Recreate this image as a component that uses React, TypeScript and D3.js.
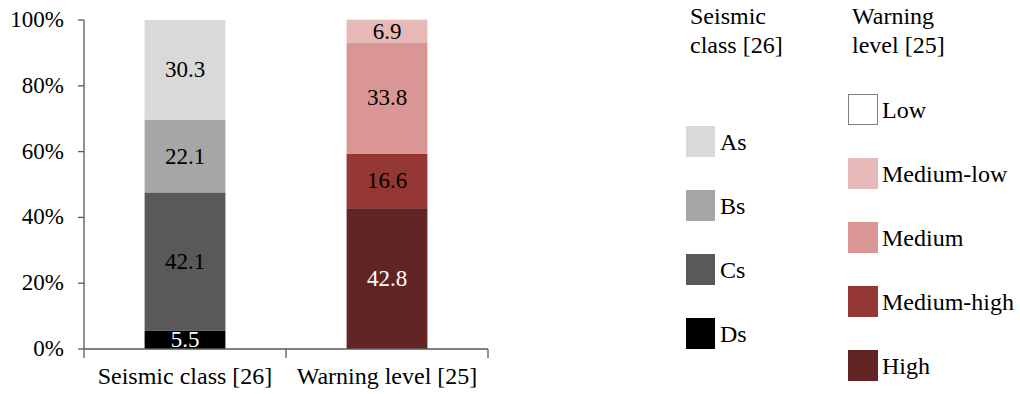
import React from "react";
import * as d3 from "d3";

const categories = ["Seismic class [26]", "Warning level [25]"];

const seismicKeys = ["Ds", "Cs", "Bs", "As"];
const seismicValues = [5.5, 42.1, 22.1, 30.3];
const seismicColors = ["#000000", "#595959", "#a6a6a6", "#d9d9d9"];
const seismicLabelColors = ["#ffffff", "#000000", "#000000", "#000000"];

const warningKeys = ["High", "Medium-high", "Medium", "Medium-low", "Low"];
const warningValues = [42.8, 16.6, 33.8, 6.9, 0];
const warningColors = ["#632523", "#953735", "#da9694", "#e6b9b8", "#ffffff"];
const warningLabelColors = ["#ffffff", "#000000", "#000000", "#000000", "#000000"];

const yTicks = [0, 20, 40, 60, 80, 100];

const legendSeismicTitle = ["Seismic", "class [26]"];
const legendWarningTitle = ["Warning", "level [25]"];
const legendSeismicOrder = ["As", "Bs", "Cs", "Ds"];
const legendWarningOrder = ["Low", "Medium-low", "Medium", "Medium-high", "High"];

const FONT = "Liberation Serif, Tinos, Times New Roman, serif";

export default function App() {
  const W = 1020, H = 394;
  const x0 = 84, x1 = 488, yTop = 20, yBot = 349;
  const y = d3.scaleLinear().domain([0, 100]).range([yBot, yTop]);
  const x = d3.scaleBand().domain(categories).range([x0, x1]).padding(0);
  const barW = x.bandwidth() * 0.4;

  const series = [
    { cat: categories[0], keys: seismicKeys, values: seismicValues, colors: seismicColors, lc: seismicLabelColors },
    { cat: categories[1], keys: warningKeys, values: warningValues, colors: warningColors, lc: warningLabelColors },
  ];

  const fsTick = 23;
  const fsData = 23;
  const fsCat = 24;
  const fsLeg = 24;

  return (
    <svg width={W} height={H} style={{ position: "absolute", left: 0, top: 0 }} fontFamily={FONT}>
      {series.map((s) => {
        const cum = Array.from(d3.cumsum(s.values));
        const cx = (x(s.cat) as number) + x.bandwidth() / 2;
        return (
          <g key={s.cat}>
            {s.values.map((v, i) => {
              if (v <= 0) return null;
              const lo = cum[i] - v;
              const hi = cum[i];
              const yt = y(hi), yb = y(lo);
              return (
                <g key={s.keys[i]}>
                  <rect x={cx - barW / 2} y={yt} width={barW} height={yb - yt} fill={s.colors[i]} />
                  <text x={cx} y={(yt + yb) / 2 + 7.5} textAnchor="middle" fontSize={fsData} fill={s.lc[i]}>
                    {v.toFixed(1)}
                  </text>
                </g>
              );
            })}
          </g>
        );
      })}
      <line x1={x0} x2={x0} y1={yTop} y2={yBot} stroke="#595959" strokeWidth={1.3} />
      {yTicks.map((t) => (
        <g key={t}>
          <line x1={x0 - 6} x2={x0} y1={y(t)} y2={y(t)} stroke="#595959" strokeWidth={1.3} />
          <text x={x0 - 20} y={y(t) + 7} textAnchor="end" fontSize={fsTick} fill="#000">
            {`${t}%`}
          </text>
        </g>
      ))}
      <line x1={x0} x2={x1} y1={yBot} y2={yBot} stroke="#595959" strokeWidth={1.3} />
      {[x0, ...categories.map((c) => (x(c) as number) + x.bandwidth())].map((p, i) => (
        <line key={i} x1={p} x2={p} y1={yBot} y2={yBot + 9} stroke="#595959" strokeWidth={1.3} />
      ))}
      {categories.map((c) => (
        <text key={c} x={(x(c) as number) + x.bandwidth() / 2} y={384} textAnchor="middle" fontSize={fsCat} fill="#000">
          {c}
        </text>
      ))}
      {legendSeismicTitle.map((t, i) => (
        <text key={t} x={690} y={24 + i * 29} fontSize={fsLeg} fill="#000">{t}</text>
      ))}
      {legendWarningTitle.map((t, i) => (
        <text key={t} x={852} y={24 + i * 29} fontSize={fsLeg} fill="#000">{t}</text>
      ))}
      {legendSeismicOrder.map((k, i) => {
        const idx = seismicKeys.indexOf(k);
        const ty = 126 + i * 64;
        return (
          <g key={k}>
            <rect x={686} y={ty} width={29} height={31} fill={seismicColors[idx]} />
            <text x={720} y={ty + 23.5} fontSize={fsLeg} fill="#000">{k}</text>
          </g>
        );
      })}
      {legendWarningOrder.map((k, i) => {
        const idx = warningKeys.indexOf(k);
        const ty = 94 + i * 64;
        const isLow = k === "Low";
        return (
          <g key={k}>
            <rect
              x={isLow ? 848.5 : 848}
              y={isLow ? ty + 0.5 : ty}
              width={isLow ? 29 : 30}
              height={isLow ? 30 : 31}
              fill={warningColors[idx]}
              stroke={isLow ? "#7f7f7f" : "none"}
              strokeWidth={1}
            />
            <text x={882} y={ty + 23.5} fontSize={fsLeg} fill="#000">{k}</text>
          </g>
        );
      })}
    </svg>
  );
}
